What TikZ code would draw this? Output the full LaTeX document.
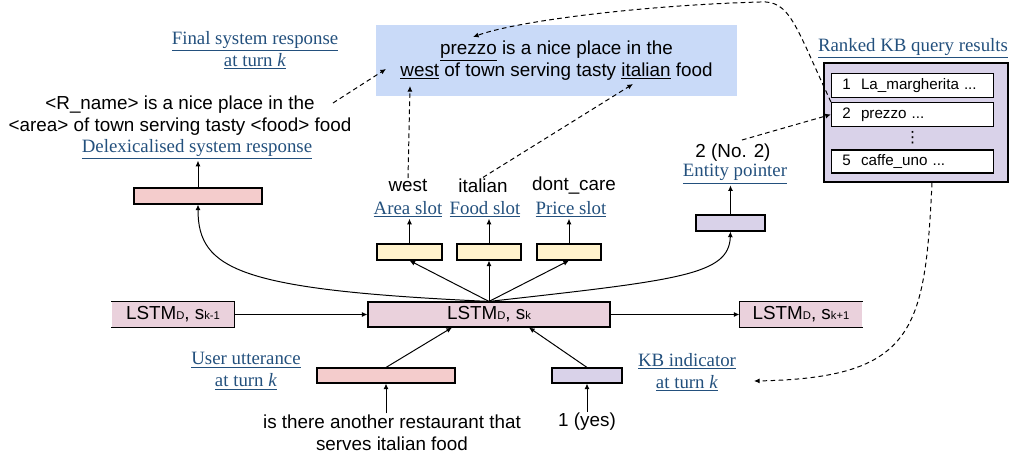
\documentclass[tikz,border=0pt]{standalone}
\usepackage{fontspec}
\setmainfont{Liberation Sans}
\newfontfamily\lblfont{Liberation Serif}
\newfontfamily\symfont{DejaVu Sans}
\usetikzlibrary{arrows.meta,calc}
\definecolor{topblue}{HTML}{C9DAF8}
\definecolor{inpink}{HTML}{F4CCCC}
\definecolor{lstmpink}{HTML}{EAD1DC}
\definecolor{slotyel}{HTML}{FFF2CC}
\definecolor{kbpurple}{HTML}{D9D2E9}
\definecolor{lblblue}{RGB}{35,80,125}
\newcommand{\lbl}[1]{{\lblfont\color{lblblue}\underline{#1}}}
\newcommand{\lstm}[1]{LSTM{\footnotesize D}, s{\footnotesize #1}}
\begin{document}
\begin{tikzpicture}[x=0.025cm,y=-0.025cm,
    font=\fontsize{13.4}{15.6}\selectfont,
    bx/.style 2 args={line width=0.8pt,inner sep=0pt,minimum width=#1*0.025cm,minimum height=#2*0.025cm},
    txt/.style={inner sep=1pt,align=center},
    kbrow/.style={draw,fill=white,line width=0.8pt,text width=3.5cm,inner xsep=0.275cm,
      inner ysep=0pt,minimum height=0.6cm,align=left,font=\fontsize{10.8}{13}\selectfont},
    arr/.style={line width=0.7pt,-{Latex[length=4pt,width=3.6pt]}},
    darr/.style={arr,dash pattern=on 3.3pt off 2.4pt}]
  \useasboundingbox (0,0) rectangle (1014,459);

  \node[fill=topblue,bx={361}{71},align=center,font=\fontsize{13.4}{15.6}\selectfont] (final) at (556.5,60.5)
    {\underline{prezzo} is a nice place in the\\\underline{west} of town serving tasty \underline{italian} food};
  \coordinate (fleft) at (386,69);
  \coordinate (fwest) at (410,86);
  \coordinate (fital) at (633,84);
  \coordinate (fprez) at (473,37);
  \node[txt] (finall) at (255,50) {\lbl{Final system response}\\\lbl{at turn \textit{k}}};

  \node[txt] (delext) at (180,116) {<R\_name> is a nice place in the\\<area> of town serving tasty <food> food};
  \node[txt] (delexl) at (197,149) {\lbl{Delexicalised system response}};
  \coordinate (dstart) at (333,103);
  \node[draw,fill=inpink,bx={128}{16}] (delex) at (198,196) {};

  \node[txt] (areav) at (408,186) {west};
  \node[txt] (areal) at (408,209) {\lbl{Area slot}};
  \node[txt] (foodv) at (483,186) {italian};
  \node[txt] (foodl) at (485,209) {\lbl{Food slot}};
  \node[txt] (pricev) at (574,186) {dont\_care};
  \node[txt] (pricel) at (571,209) {\lbl{Price slot}};
  \node[draw,fill=slotyel,bx={65}{16}] (area) at (409.5,252) {};
  \node[draw,fill=slotyel,bx={64}{16}] (food) at (489,252) {};
  \node[draw,fill=slotyel,bx={64}{16}] (price) at (569,252) {};

  \node[txt] (entv) at (733,153) {2 (No. 2)};
  \node[txt] (entl) at (735,174) {\lbl{Entity pointer}};
  \coordinate (estart) at (742,140);
  \node[draw,fill=kbpurple,bx={69}{16}] (ent) at (730.5,223) {};

  \node[txt] (kbl) at (913,48) {\lbl{Ranked KB query results}};
  \node[draw,fill=kbpurple,bx={184}{119},line width=1.1pt] (kb) at (916,122.5) {};
  \node[kbrow] (r1) at (912.5,85.5) {1\ \ La\_margherita ...};
  \node[kbrow] (r2) at (912.5,114.5) {2\ \ prezzo ...};
  \node[inner sep=0pt,font=\symfont\fontsize{11}{12}\selectfont] (dots) at (912.5,138) {⋮};
  \node[kbrow,minimum height=0.575cm] (r5) at (912.5,161.5) {5\ \ caffe\_uno ...};

  \node[draw,fill=lstmpink,bx={242}{25}] (lstmk) at (489,314.5) {\lstm{k}};
  \node[fill=lstmpink,bx={122}{25}] (prev) at (173,314.5) {\lstm{k-1}};
  \draw[line width=0.8pt] (prev.north west) -- (prev.north east) -- (prev.south east) -- (prev.south west);
  \node[fill=lstmpink,bx={122}{25}] (next) at (801,314.5) {\lstm{k+1}};
  \draw[line width=0.8pt] (next.north east) -- (next.north west) -- (next.south west) -- (next.south east);

  \node[draw,fill=inpink,bx={138}{15}] (user) at (386,375.5) {};
  \node[txt] (userl) at (246,371) {\lbl{User utterance}\\\lbl{at turn \textit{k}}};
  \node[txt] (usert) at (392,433) {is there another restaurant that\\serves italian food};
  \node[draw,fill=kbpurple,bx={70}{15}] (kbind) at (587,375.5) {};
  \node[txt] (kbindl) at (687,372) {\lbl{KB indicator}\\\lbl{at turn \textit{k}}};
  \node[txt] (yes) at (587,422) {1 (yes)};
  \coordinate (kbin) at (754,381);

  \draw[arr] (delex.north) -- (delex.north |- delexl.south);
  \draw[arr] (lstmk.north) .. controls (240,290) and (198,270) .. (delex.south);
  \draw[arr] (lstmk.north) -- (area.south);
  \draw[arr] (lstmk.north) -- (food.south);
  \draw[arr] (lstmk.north) -- (price.south);
  \draw[arr] (lstmk.north) .. controls (680,280) and (729,275) .. (ent.south);
  \draw[arr] (area.north) -- (area.north |- areal.south);
  \draw[arr] (food.north) -- (food.north |- foodl.south);
  \draw[arr] (price.north) -- (price.north |- pricel.south);
  \draw[arr] (ent.north) -- (ent.north |- entl.south);
  \draw[arr] (prev.east) -- (lstmk.west);
  \draw[arr] (lstmk.east) -- (next.west);
  \draw[arr] (user.north) -- ($(lstmk.south)+(-37,0)$);
  \draw[arr] (kbind.north) -- ($(lstmk.south)+(40,0)$);
  \draw[arr] (user.south |- usert.north) -- (user.south);
  \draw[arr] (yes.north) -- (kbind.south);

  \draw[darr] (dstart) -- (fleft);
  \draw[darr] (areav.north) -- (fwest);
  \draw[darr] (foodv.north) -- (fital);
  \draw[darr] (estart) -- (r2.west);
  \draw[darr] (r2.north west) .. controls (795,25) and (790,0) .. (760,2) .. controls (650,5) and (520,20) .. (fprez);
  \draw[darr] ($(kb.south)+(16,0)$) .. controls (925,330) and (915,378) .. (kbin);
\end{tikzpicture}
\end{document}
